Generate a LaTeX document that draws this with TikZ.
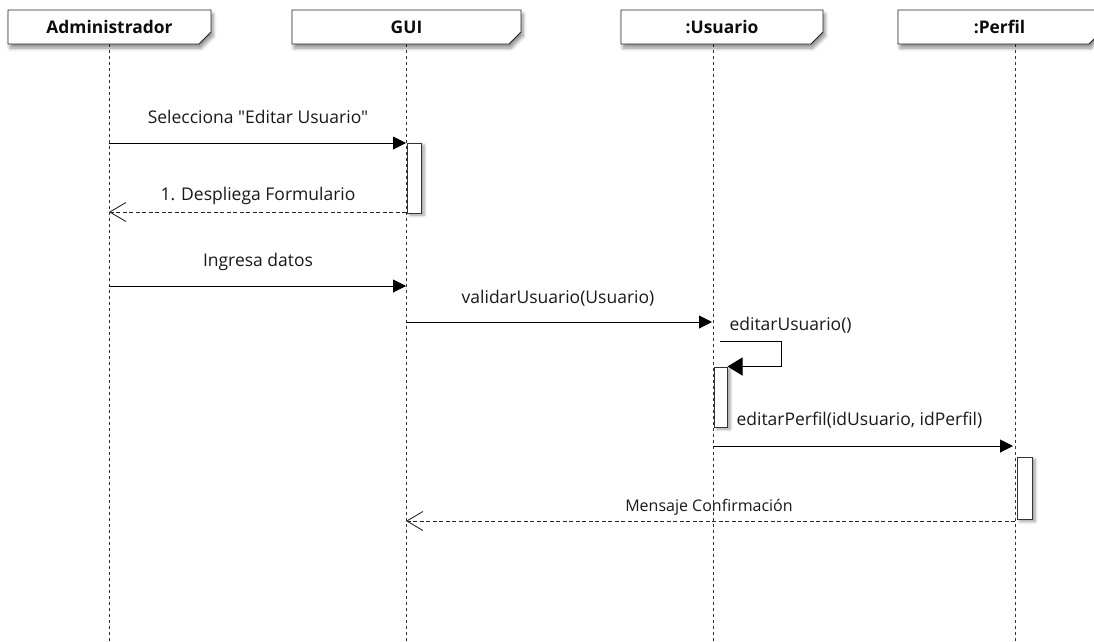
\documentclass[tikz,border=0pt]{standalone}
\usepackage{fontspec}
\setmainfont{Open Sans}[Ligatures=TeXOff]
\usetikzlibrary{arrows.meta,shadows.blur}

\tikzset{
  header/.style={draw=black!85, line width=0.9pt, fill=white,
    blur shadow={shadow xshift=2pt, shadow yshift=-4pt, shadow blur radius=3.5pt, shadow blur steps=6, shadow opacity=45}},
  headtext/.style={font=\fontsize{17.4}{20}\selectfont\bfseries, text=black!95},
  lifeline/.style={draw=black!80, line width=0.7pt, dash pattern=on 3pt off 3pt},
  activation/.style={draw=black!80, line width=1pt, fill=white,
    blur shadow={shadow xshift=3pt, shadow yshift=-2pt, shadow blur radius=3pt, shadow blur steps=6}},
  call/.style={draw=black, line width=1pt, -{Triangle[length=13pt,width=13pt]}},
  selfcall/.style={draw=black, line width=1pt, -{Triangle[length=15pt,width=18pt]}},
  reply/.style={draw=black!85, line width=0.8pt, dash pattern=on 4pt off 2.5pt,
    -{Straight Barb[length=16pt,width=19pt,line width=0.9pt]}},
  msg/.style={font=\fontsize{17.5}{20}\selectfont, text=black!90},
  smallmsg/.style={font=\fontsize{16}{19}\selectfont, text=black!90},
}

\newcommand{\headbox}[4]{% name, left, right, text
  \path[header] (#2,10) -- (#3,10) -- (#3,32) -- (#3-12,44) -- (#2,44) -- cycle;
  \node[headtext] (#1) at ({(#2+#3)/2},27) {#4};
}

\begin{document}
\begin{tikzpicture}[x=1pt,y=-1pt]
\useasboundingbox (0,0) rectangle (1094,641);
\clip (0,0) rectangle (1094,641);

% lifelines
\coordinate (adminTop) at (109,44);  \coordinate (adminBot) at (109,641);
\coordinate (guiTop) at (406,44);    \coordinate (guiBot) at (406,641);
\coordinate (usrTop) at (713,44);    \coordinate (usrBot) at (713,641);
\coordinate (perTop) at (1015,44);   \coordinate (perBot) at (1015,641);
\draw[lifeline] (adminTop) -- (adminBot);
\draw[lifeline] (guiTop) -- (guiBot);
\draw[lifeline] (usrTop) -- (usrBot);
\draw[lifeline] (perTop) -- (perBot);

% participant heads
\headbox{admin}{8}{211}{Administrador}
\headbox{gui}{292}{521}{GUI}
\headbox{usuario}{621}{823}{:Usuario}
\headbox{perfil}{898}{1101}{:Perfil}

% activation bars
\node[activation, minimum width=14pt, minimum height=70pt, inner sep=0pt, anchor=north west] (actGui) at (406.5,142.5) {};
\node[activation, minimum width=13pt, minimum height=60pt, inner sep=0pt, anchor=north west] (actUsr) at (713.5,366.5) {};
\node[activation, minimum width=15pt, minimum height=62pt, inner sep=0pt, anchor=north west] (actPer) at (1016.5,457) {};

% message end points
\coordinate (a1) at (109,143);  \coordinate (g1) at (406,143);
\coordinate (g2) at (406,212);  \coordinate (a2) at (109,212);
\coordinate (a3) at (109,286);  \coordinate (g3) at (406,286);
\coordinate (g4) at (406,322);  \coordinate (u4) at (712,322);
\coordinate (u5) at (720,341);  \coordinate (s5a) at (781,341);
\coordinate (s5b) at (781,366.5);
\coordinate (u6) at (713,446);  \coordinate (p6) at (1013,446);
\coordinate (p7) at (1015,521); \coordinate (g7) at (406,521);

% messages
\draw[call] (a1) -- (g1);
\node[msg] (l1) at (258,117) {Selecciona "Editar Usuario"};
\draw[reply] (g2) -- (a2);
\node[msg] (l2) at (258,196) {1. Despliega Formulario};
\draw[call] (a3) -- (g3);
\node[msg] (l3) at (258,262) {Ingresa datos};
\draw[call] (g4) -- (u4);
\node[msg] (l4) at (558,298) {validarUsuario(Usuario)};
\draw[selfcall] (u5) -- (s5a) -- (s5b) -- (actUsr.north east);
\node[msg, anchor=west] (l5) at (726,325) {editarUsuario()};
\draw[call] (u6) -- (p6);
\node[msg, anchor=west] (l6) at (733,420) {editarPerfil(idUsuario, idPerfil)};
\draw[reply] (p7) -- (g7);
\node[smallmsg] (l7) at (709,507) {Mensaje Confirmación};

\end{tikzpicture}
\end{document}
